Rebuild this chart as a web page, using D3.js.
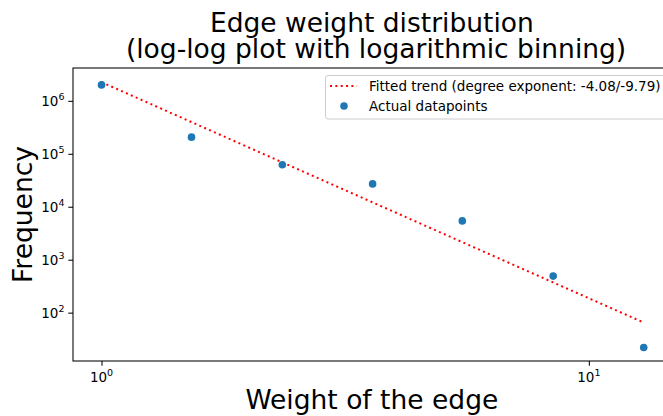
<!DOCTYPE html>
<html>
<head>
<meta charset="utf-8">
<script src="https://cdn.jsdelivr.net/npm/d3@7"></script>
<style>
  html, body { margin: 0; padding: 0; background: #fff; }
  svg { display: block; font-family: "DejaVu Sans", sans-serif; }
</style>
</head>
<body>
<svg id="chart" width="663" height="416"></svg>
<script>
// Logarithmically binned edge weights and their frequencies
const weights = [1.0, 1.53, 2.35, 3.6, 5.5, 8.45, 12.96];
const frequencies = [2.0e6, 2.06e5, 6.2e4, 2.7e4, 5.4e3, 490, 22];

// Power-law fit: frequency = fitCoefficient * weight ^ fitExponent
const fitExponent = -4.08;
const fitCoefficient = 2.25e6;

// Tick labels (powers of ten)
const xMajorExponents = [0, 1];
const yMajorExponents = [2, 3, 4, 5, 6];

const titleLines = ["Edge weight distribution", " (log-log plot with logarithmic binning)"];
const xLabel = "Weight of the edge";
const yLabel = "Frequency";
const legendLabels = ["Fitted trend (degree exponent: -4.08/-9.79)", "Actual datapoints"];

const svg = d3.select("#chart");
const plot = { left: 73, top: 68, right: 670.7, bottom: 361 };

const x = d3.scaleLog()
  .domain([Math.pow(10, -0.0585), Math.pow(10, 1.168)])
  .range([plot.left, plot.right]);
const y = d3.scaleLog()
  .domain([Math.pow(10, 1.087), Math.pow(10, 6.62)])
  .range([plot.bottom, plot.top]);

const dotColor = "#1f77b4";
const textColor = "#000";

// Major and minor tick values inside the visible domain
function logTicks(scale) {
  const [a, b] = scale.domain();
  const lo = Math.floor(Math.log10(a)), hi = Math.ceil(Math.log10(b));
  const major = [], minor = [];
  for (let e = lo; e <= hi; e++) {
    for (let m = 1; m <= 9; m++) {
      const v = m * Math.pow(10, e);
      if (v < a * 0.9999 || v > b * 1.0001) continue;
      (m === 1 ? major : minor).push(v);
    }
  }
  return { major, minor };
}

const superscript = d => {
  const e = Math.round(Math.log10(d));
  return { base: "10", exp: String(e) };
};

// Bottom axis
const xt = logTicks(x);
const xAxisMajor = d3.axisBottom(x).tickValues(xt.major).tickSize(4.7).tickPadding(4.7).tickFormat("");
const xAxisMinor = d3.axisBottom(x).tickValues(xt.minor).tickSize(2.7).tickFormat("");
const gx = svg.append("g").attr("transform", `translate(0,${plot.bottom})`);
gx.call(xAxisMinor);
gx.call(xAxisMajor);
gx.select(".domain").remove();
gx.selectAll("line").attr("stroke", "#000").attr("stroke-width", 1.05);

svg.append("g").selectAll("text.xtick")
  .data(xMajorExponents.map(e => Math.pow(10, e)))
  .join("text")
  .attr("class", "xtick")
  .attr("x", d => x(d))
  .attr("y", plot.bottom + 20.5)
  .attr("text-anchor", "middle")
  .attr("font-size", 13.5)
  .attr("fill", textColor)
  .each(function(d) {
    const s = superscript(d);
    const t = d3.select(this);
    t.append("tspan").text(s.base);
    t.append("tspan").attr("font-size", 9.5).attr("dy", -6).text(s.exp);
  });

// Left axis
const yt = logTicks(y);
const yAxisMajor = d3.axisLeft(y).tickValues(yt.major).tickSize(4.7).tickFormat("");
const yAxisMinor = d3.axisLeft(y).tickValues(yt.minor).tickSize(2.7).tickFormat("");
const gy = svg.append("g").attr("transform", `translate(${plot.left},0)`);
gy.call(yAxisMinor);
gy.call(yAxisMajor);
gy.select(".domain").remove();
gy.selectAll("line").attr("stroke", "#000").attr("stroke-width", 1.05);

svg.append("g").selectAll("text.ytick")
  .data(yMajorExponents.map(e => Math.pow(10, e)))
  .join("text")
  .attr("class", "ytick")
  .attr("x", plot.left - 8.5)
  .attr("y", d => y(d) + 5.5)
  .attr("text-anchor", "end")
  .attr("font-size", 13.5)
  .attr("fill", textColor)
  .each(function(d) {
    const s = superscript(d);
    const t = d3.select(this);
    t.append("tspan").text(s.base);
    t.append("tspan").attr("font-size", 9.5).attr("dy", -6).text(s.exp);
  });

// Fitted trend line, evaluated at the binned weights
const fitLine = d3.line()
  .x(d => x(d))
  .y(d => y(fitCoefficient * Math.pow(d, fitExponent)));
svg.append("path")
  .datum(weights)
  .attr("d", fitLine)
  .attr("fill", "none")
  .attr("stroke", "#ff0000")
  .attr("stroke-width", 2)
  .attr("stroke-dasharray", "2,3.35");

// Data points
svg.append("g").selectAll("circle")
  .data(weights.map((w, i) => [w, frequencies[i]]))
  .join("circle")
  .attr("cx", d => x(d[0]))
  .attr("cy", d => y(d[1]))
  .attr("r", 3.8)
  .attr("fill", dotColor);

// Spines
svg.append("rect")
  .attr("x", plot.left)
  .attr("y", plot.top)
  .attr("width", plot.right - plot.left)
  .attr("height", plot.bottom - plot.top)
  .attr("fill", "none")
  .attr("stroke", "#000")
  .attr("stroke-width", 1.05);

// Legend
const lg = svg.append("g");
lg.append("rect")
  .attr("x", 325.5).attr("y", 75.5)
  .attr("width", 341).attr("height", 43.5)
  .attr("rx", 2.7)
  .attr("fill", "#fff").attr("fill-opacity", 0.8)
  .attr("stroke", "#cccccc").attr("stroke-width", 1);
lg.append("line")
  .attr("x1", 330).attr("x2", 357)
  .attr("y1", 86).attr("y2", 86)
  .attr("stroke", "#ff0000").attr("stroke-width", 2)
  .attr("stroke-dasharray", "2,3.35");
lg.append("circle")
  .attr("cx", 344).attr("cy", 106).attr("r", 3.8).attr("fill", dotColor);
lg.selectAll("text")
  .data(legendLabels)
  .join("text")
  .attr("x", 369)
  .attr("y", (d, i) => 90.8 + i * 20)
  .attr("font-size", 13.5)
  .attr("fill", textColor)
  .text(d => d);

// Title
const cx = (plot.left + plot.right) / 2;
svg.append("g").selectAll("text")
  .data(titleLines)
  .join("text")
  .attr("x", cx)
  .attr("y", (d, i) => 31.7 + i * 26.7)
  .attr("text-anchor", "middle")
  .attr("font-size", 26.5)
  .attr("fill", textColor)
  .attr("xml:space", "preserve")
  .style("white-space", "pre")
  .text(d => d);

// Axis labels
svg.append("text")
  .attr("x", cx)
  .attr("y", 409)
  .attr("text-anchor", "middle")
  .attr("font-size", 26.5)
  .attr("fill", textColor)
  .text(xLabel);

svg.append("text")
  .attr("transform", `translate(32,${(plot.top + plot.bottom) / 2}) rotate(-90)`)
  .attr("text-anchor", "middle")
  .attr("font-size", 26.5)
  .attr("fill", textColor)
  .text(yLabel);
</script>
</body>
</html>
